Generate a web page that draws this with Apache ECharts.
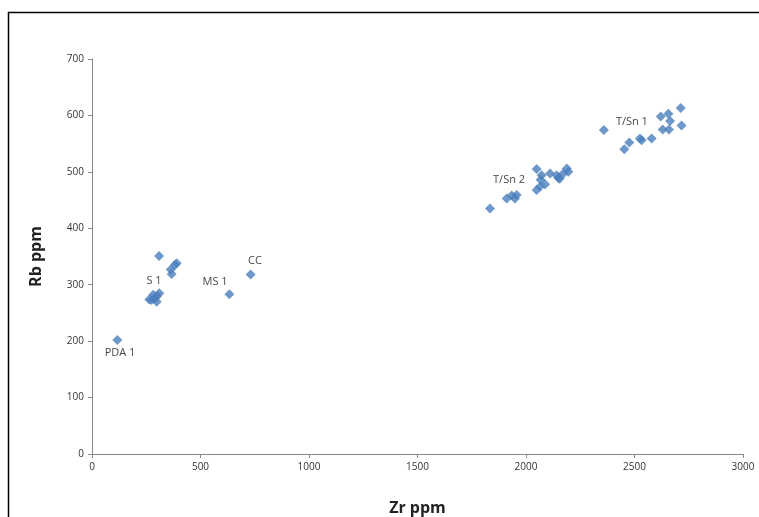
<!DOCTYPE html>
<html><head><meta charset="utf-8">
<script src="https://cdn.jsdelivr.net/npm/echarts@6/dist/echarts.min.js"></script>
<style>html,body{margin:0;padding:0;background:#fff}#c{width:759px;height:517px}</style>
</head><body><div id="c"></div>
<script>
// Zr ppm (x) and Rb ppm (y)
const zr = [117, 309, 390, 382, 363, 367, 264, 282, 310, 298, 290, 275, 300, 633, 731,
  1834, 1911, 1934, 1949, 1957, 2049, 2072, 2111, 2049, 2065, 2088, 2141, 2149, 2188, 2195, 2172, 2067, 2155,
  2359, 2453, 2476, 2525, 2533, 2579, 2621, 2656, 2664, 2630, 2659, 2713, 2717];
const rb = [202, 351, 338, 335, 327, 319, 274, 282, 285, 270, 276, 273, 280, 283, 318,
  435, 453, 458, 453, 459, 505, 494, 497, 468, 474, 478, 494, 489, 506, 500, 497, 486, 488,
  574, 540, 552, 559, 556, 559, 598, 603, 590, 575, 575, 613, 582];
const labelText = ['PDA 1', 'S 1', 'MS 1', 'CC', 'T/Sn 2', 'T/Sn 1'];
const labelZr = [129, 286, 567, 751, 1922, 2488];
const labelRb = [180, 307, 305, 342, 486, 588];
const xTicks = [0, 3000, 500];
const yTicks = [0, 700, 100];

const chart = echarts.init(document.getElementById('c'), null, {renderer: 'canvas'});
const font = 'Open Sans, Liberation Sans, sans-serif';
chart.setOption({
  animation: false,
  backgroundColor: '#fff',
  graphic: [{type: 'rect', left: 6, top: 10, shape: {width: 800, height: 600},
    style: {fill: 'none', stroke: '#000', lineWidth: 1.5}, silent: true}],
  grid: {left: 92, right: 16, top: 59, bottom: 63, containLabel: false, outerBoundsMode: 'none'},
  xAxis: {type: 'value', min: xTicks[0], max: xTicks[1], interval: xTicks[2],
    name: 'Zr ppm', nameLocation: 'middle', nameGap: 46,
    nameTextStyle: {fontSize: 16, fontWeight: 'bold', color: '#222', fontFamily: font},
    axisLine: {lineStyle: {color: '#888'}}, axisTick: {show: true, length: 4, lineStyle: {color: '#888'}},
    axisLabel: {fontSize: 10, color: '#333', margin: 8, fontFamily: font, formatter: v => String(v)}, splitLine: {show: false}},
  yAxis: {type: 'value', min: yTicks[0], max: yTicks[1], interval: yTicks[2],
    name: 'Rb ppm', nameLocation: 'middle', nameGap: 48, nameRotate: 90,
    nameTextStyle: {fontSize: 16, fontWeight: 'bold', color: '#222', fontFamily: font},
    axisLine: {show: true, lineStyle: {color: '#888'}}, axisTick: {show: true, length: 4, lineStyle: {color: '#888'}},
    axisLabel: {fontSize: 10, color: '#333', margin: 8, fontFamily: font, formatter: v => String(v)}, splitLine: {show: false}},
  series: [
    {type: 'scatter', symbol: 'diamond', symbolSize: 10,
      itemStyle: {color: '#4a7ebb'},
      data: zr.map((v, i) => [v, rb[i]])},
    {type: 'scatter', symbolSize: 0, silent: true,
      label: {show: true, position: 'inside', formatter: p => p.data[2], fontSize: 11, color: '#111', fontFamily: font},
      data: labelZr.map((v, i) => [v, labelRb[i], labelText[i]])}
  ]
});
</script></body></html>
